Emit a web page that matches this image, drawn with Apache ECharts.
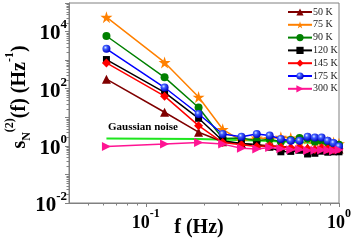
<!DOCTYPE html>
<html><head><meta charset="utf-8">
<script src="https://cdn.jsdelivr.net/npm/echarts@6/dist/echarts.min.js"></script>
<style>html,body{margin:0;padding:0;background:#fff}#c{width:354px;height:245px}</style>
</head><body><div id="c"></div>
<script>
// ---- data ----
const freq = [0.0625, 0.125, 0.1875, 0.25, 0.3125, 0.375, 0.4375, 0.5, 0.5625, 0.625, 0.6875, 0.75, 0.8125, 0.875, 0.9375, 1.0];
const seriesNames = ['50 K', '75 K', '90 K', '120 K', '145 K', '175 K', '300 K'];
const s50  = [215, 15, 3.0, 1.4, 1.2, 1.1, 1.0, 0.95, 0.9, 0.85, 0.85, 0.8, 0.8, 0.8, 0.78, 0.78];
const s75  = [32000, 830, 51, 3.8, 1.5, 1.9, 1.8, 2.0, 1.9, 1.6, 1.8, 1.5, 1.6, 1.4, 1.3, 1.2];
const s90  = [7000, 250, 22, 1.8, 1.9, 1.5, 1.7, 1.4, 1.6, 1.9, 1.8, 1.4, 1.5, 1.3, 1.2, 1.1];
const s120 = [1050, 74, 9.2, 1.5, 1.2, 1.1, 0.9, 0.62, 0.64, 0.7, 0.52, 0.55, 0.65, 0.6, 0.62, 0.62];
const s145 = [800, 55, 5.1, 1.3, 1.1, 0.95, 1.0, 0.9, 0.85, 0.9, 0.8, 0.75, 0.85, 0.8, 0.75, 0.8];
const s175 = [2500, 110, 13, 2.6, 2.1, 2.6, 2.3, 1.75, 1.5, 1.5, 2.1, 1.95, 1.95, 1.5, 1.25, 0.95];
const s300 = [0.95, 1.15, 1.3, 1.15, 0.83, 0.77, 0.87, 0.79, 0.73, 0.75, 0.69, 0.7, 0.72, 0.7, 0.68, 0.72];
const gaussFreq = [0.0625, 0.1875, 0.375, 0.625, 1.0];
const gaussVal  = [1.8, 1.75, 1.55, 1.35, 1.15];
const gaussLabel = 'Gaussian noise';
const xLabelExps = [-1, 0];
const yLabelExps = [-2, 0, 2, 4];
const xMinorTicks = [0.05, 0.06, 0.07, 0.08, 0.09, 0.2, 0.3, 0.4, 0.5, 0.6, 0.7, 0.8, 0.9];
const yMinorDecades = [-2, -1, 0, 1, 2, 3, 4];
const xTitle = 'f (Hz)';

// ---- styling ----
const FONT = 'Liberation Serif';
const AX = '#808080';
const STAR = 'path://M50,0 L61,35 L98,35 L68,57 L79,91 L50,70 L21,91 L32,57 L2,35 L39,35 Z';
const styles = [
  {color: '#800000', symbol: 'triangle', size: 9},
  {color: '#ff8000', symbol: STAR, size: 12},
  {color: '#008000', symbol: 'circle', size: 8},
  {color: '#000000', symbol: 'rect', size: 7},
  {color: '#ff0000', symbol: 'diamond', size: 9},
  {color: {type: 'radial', x: 0.38, y: 0.35, r: 0.65, colorStops: [{offset: 0, color: '#d8e4ff'}, {offset: 0.35, color: '#3d5cff'}, {offset: 1, color: '#0000c0'}]}, line: '#0000ff', symbol: 'circle', size: 8},
  {color: '#ff1493', symbol: 'triangle', size: 9, rotate: -90}
];
const allVals = [s50, s75, s90, s120, s145, s175, s300];

const series = allVals.map((vals, i) => ({
  name: seriesNames[i],
  type: 'line',
  data: freq.map((f, j) => [f, vals[j]]),
  symbol: styles[i].symbol,
  symbolSize: styles[i].size,
  symbolRotate: styles[i].rotate || 0,
  showAllSymbol: true,
  lineStyle: {width: 1.5, color: styles[i].line || styles[i].color},
  itemStyle: {color: styles[i].color, borderWidth: 0},
  z: 3 + i,
  animation: false
}));
series.push({
  name: 'gauss',
  type: 'line',
  data: gaussFreq.map((f, j) => [f, gaussVal[j]]),
  symbol: 'none',
  lineStyle: {width: 2, color: '#1ee61e'},
  z: 2,
  animation: false
});

const sup = {fontSize: 12, fontWeight: 'bold', fontFamily: FONT, color: '#000', verticalAlign: 'top', lineHeight: 24};
const chart = echarts.init(document.getElementById('c'), null, {renderer: 'canvas'});
chart.setOption({
  animation: false,
  backgroundColor: '#fff',
  grid: {left: 69, right: 15, top: 3, bottom: 42, show: true, borderColor: AX, borderWidth: 1},
  legend: {
    data: seriesNames,
    orient: 'vertical',
    left: 287, top: 7, padding: 0,
    itemWidth: 24, itemHeight: 9, itemGap: 2.8,
    textStyle: {fontFamily: FONT, fontSize: 10, color: '#222', padding: [0, 0, 0, -4], lineHeight: 9}
  },
  xAxis: {
    type: 'log', logBase: 10, min: 0.04, max: 1,
    axisLine: {lineStyle: {color: AX}},
    axisTick: {show: true, length: 4, lineStyle: {color: AX}},
    splitLine: {show: false},
    axisLabel: {
      showMinLabel: false,
      margin: 5,
      formatter: v => {
        const e = Math.round(Math.log10(v));
        if (Math.abs(Math.log10(v) - e) > 1e-6 || !xLabelExps.includes(e)) return '';
        return '{b|10}{s|' + e + '}';
      },
      rich: {b: {fontSize: 18, fontWeight: 'bold', fontFamily: FONT, color: '#000', lineHeight: 24, verticalAlign: 'bottom'}, s: sup}
    }
  },
  yAxis: {
    type: 'log', logBase: 10, min: 0.01, max: 100000, splitNumber: 7,
    axisLine: {show: true, lineStyle: {color: AX}},
    axisTick: {show: true, length: 4, lineStyle: {color: AX}},
    splitLine: {show: false},
    axisLabel: {
      margin: 2,
      formatter: v => {
        const e = Math.round(Math.log10(v));
        if (!yLabelExps.includes(e)) return '';
        return '{b|10}{s|' + e + '}';
      },
      rich: {b: {fontSize: 21, fontWeight: 'bold', fontFamily: FONT, color: '#000', lineHeight: 26, verticalAlign: 'bottom'}, s: Object.assign({}, sup, {fontSize: 13, lineHeight: 26})}
    }
  },
  series: series
});

// minor ticks, titles and annotation
const g = [];
function addLine(x1, y1, x2, y2) {
  g.push({type: 'line', silent: true, shape: {x1, y1, x2, y2}, style: {stroke: AX, lineWidth: 1}});
}
const y0 = chart.convertToPixel({gridIndex: 0}, [1, 0.01])[1];
const x0 = chart.convertToPixel({gridIndex: 0}, [0.04, 1])[0];
xMinorTicks.forEach(v => {
  const x = Math.round(chart.convertToPixel({xAxisIndex: 0}, v)) + 0.5;
  addLine(x, y0, x, y0 + 2.5);
});
yMinorDecades.forEach(d => {
  for (let m = 2; m <= 9; m++) {
    const y = Math.round(chart.convertToPixel({yAxisIndex: 0}, m * Math.pow(10, d))) + 0.5;
    addLine(x0, y, x0 - 2.5, y);
  }
});
g.push({type: 'text', left: 108, top: 122, silent: true,
  style: {text: gaussLabel, font: 'bold 11px "Liberation Serif"', fill: '#000'}});
g.push({type: 'text', x: 199, y: 228, silent: true,
  style: {text: xTitle, font: 'bold 20px "Liberation Serif"', fill: '#000', align: 'center', verticalAlign: 'middle'}});
g.push({type: 'text', x: 17, y: 97, rotation: Math.PI / 2, silent: true,
  style: {
    text: '{t|s}{sub|N}{sup|(2)}{t|(f) (Hz}{sup|-1}{t|)}',
    align: 'center', verticalAlign: 'middle',
    rich: {
      t: {fontSize: 20, fontWeight: 'bold', fontFamily: FONT, fill: '#000', lineHeight: 26, verticalAlign: 'bottom'},
      sub: {fontSize: 12, fontWeight: 'bold', fontFamily: FONT, fill: '#000', lineHeight: 26, verticalAlign: 'bottom', padding: [0, 0, -3, 0]},
      sup: {fontSize: 12, fontWeight: 'bold', fontFamily: FONT, fill: '#000', lineHeight: 26, verticalAlign: 'top'}
    }
  }});
chart.setOption({graphic: g});
</script>
</body></html>
